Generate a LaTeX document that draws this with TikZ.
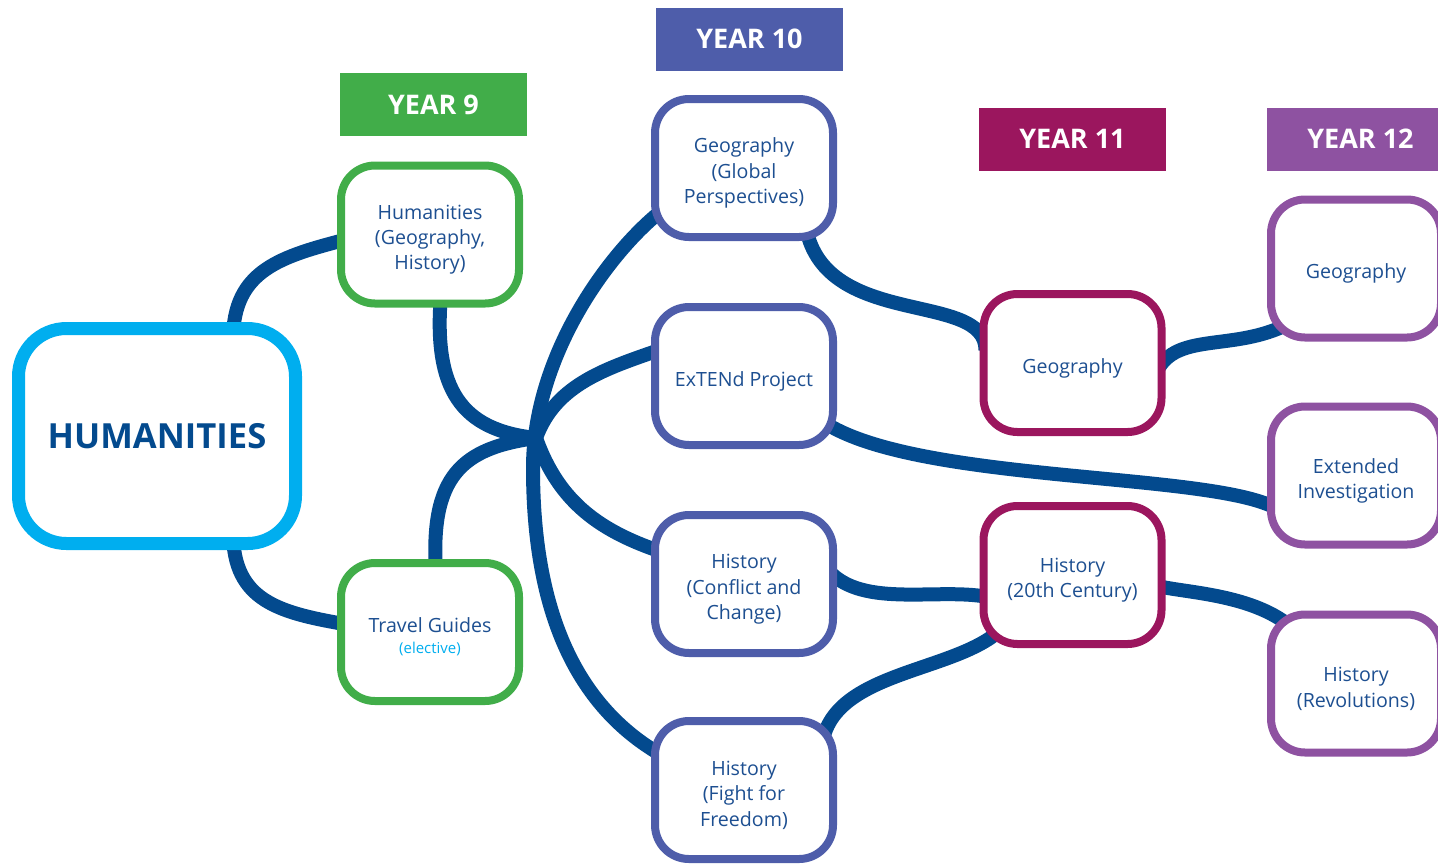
\documentclass[tikz,border=0pt]{standalone}
\usepackage{fontspec}
\setmainfont{Open Sans}
\usepackage{tikz}
\usetikzlibrary{positioning}
\definecolor{linkblue}{HTML}{034A8E}
\definecolor{txtblue}{HTML}{1D4F91}
\definecolor{humblue}{HTML}{00AEEF}
\definecolor{c9}{HTML}{41AD49}
\definecolor{c10}{HTML}{4E5DAA}
\definecolor{c11}{HTML}{9B165E}
\definecolor{c12}{HTML}{8E52A1}
\newcommand{\boxstrut}{\rule{0pt}{12.5pt}}
\pgfdeclarelayer{background}
\pgfsetlayers{background,main}
\tikzset{
     topic/.style={rectangle,rounded corners=17pt,line width=4pt,fill=white,minimum width=89pt,minimum height=69pt,inner sep=2pt,align=center,text=txtblue,font=\fontsize{9.8}{12.6}\selectfont},
     yearlabel/.style={rectangle,minimum width=93.5pt,minimum height=31.5pt,inner sep=0pt,text=white,font=\fontsize{13.5}{16}\selectfont\bfseries},
     link/.style={draw=linkblue,line width=7pt}
     }

\begin{document}
\begin{tikzpicture}[x=0.5pt,y=-0.5pt]
            \path[use as bounding box] (0,0) rectangle (1438,863);
            % Place nodes
            \node[rectangle,rounded corners=24pt,draw=humblue,line width=6.5pt,fill=white,minimum width=138.5pt,minimum height=107.5pt,text=linkblue,font=\fontsize{17.3}{20}\selectfont\bfseries] (hum) at (157,436) {HUMANITIES};
            \node[yearlabel,fill=c9] (lab9) at (433.5,104.5) {YEAR 9};
            \node[yearlabel,fill=c10] (lab10) at (749.5,39) {YEAR 10};
            \node[yearlabel,fill=c11] (lab11) at (1072.5,139) {YEAR 11};
            \node[yearlabel,fill=c12] (lab12) at (1360.5,139) {YEAR 12};
            \node[topic,draw=c9] (y9a) at (430,234.5) {\boxstrut Humanities\\(Geography,\\History)};
            \node[topic,draw=c9] (y9b) at (430,632) {\boxstrut Travel Guides\\[-2pt]{\fontsize{7.5}{9}\selectfont\color{humblue}(elective)}};
            \node[topic,draw=c10] (y10a) at (744,168) {\boxstrut Geography\\(Global\\Perspectives)};
            \node[topic,draw=c10] [below=31pt of y10a] (y10b) {\boxstrut ExTENd Project};
            \node[topic,draw=c10] [below=31pt of y10b] (y10c) {\boxstrut History\\(Conflict and\\Change)};
            \node[topic,draw=c10] [below=30pt of y10c] (y10d) {\boxstrut History\\(Fight for\\Freedom)};
            \node[topic,draw=c11] (y11a) at (1072.5,363) {\boxstrut Geography};
            \node[topic,draw=c11] [below=33pt of y11a] (y11b) {\boxstrut History\\(20th Century)};
            \node[topic,draw=c12,minimum width=85pt] (y12a) at (1356,268.5) {\boxstrut Geography};
            \node[topic,draw=c12,minimum width=85pt] [below=30.5pt of y12a] (y12b) {\boxstrut Extended\\Investigation};
            \node[topic,draw=c12,minimum width=85pt] [below=31pt of y12b] (y12c) {\boxstrut History\\(Revolutions)};
            \coordinate (hub) at (536,438);
            \coordinate (bend) at (533,468);
            % Draw edges
            \begin{pgfonlayer}{background}
            \draw[link] ([shift={(76,18)}]hum.north) .. controls +(0,-70) and +(-70,18) .. ([shift={(13,4)}]y9a.west);
            \draw[link] ([shift={(76,-18)}]hum.south) .. controls +(0,70) and +(-70,-12) .. ([shift={(13,-7)}]y9b.west);
            \draw[link] ([shift={(11,-13)}]y9a.south) .. controls +(-8,95) and +(-75,-8) .. (hub);
            \draw[link] ([shift={(6,13)}]y9b.north) .. controls +(-6,-95) and +(-75,10) .. (hub);
            \draw[link] ([shift={(14,40)}]y10a.west) .. controls +(-55,42) and +(0,-113) .. (bend) .. controls +(0,150) and +(-85,-47) .. ([shift={(14,-33)}]y10d.west);
            \draw[link] (hub) .. controls +(20,-55) and +(-57,20) .. ([shift={(14,-28)}]y10b.west);
            \draw[link] (hub) .. controls +(23,65) and +(-64,-21) .. ([shift={(14,-31)}]y10c.west);
            \draw[link] ([shift={(-31,-13)}]y10a.south east) .. controls +(20,102) and +(0,-60) .. ([shift={(6,-13)}]y11a.west);
            \draw[link] ([shift={(-19,-31)}]y10b.south east) .. controls +(87,67) and +(-60,-40) .. ([shift={(13,35)}]y12b.west);
            \draw[link] ([shift={(-9,-14)}]y10c.east) .. controls +(35,40) and +(-50,-12) .. ([shift={(13,23)}]y11b.west);
            \draw[link] ([shift={(-15,28)}]y10d.north east) .. controls +(10,-75) and +(-45,45) .. ([shift={(23,-20)}]y11b.south west);
            \draw[link] ([shift={(-8,7)}]y11a.east) .. controls +(20,-37) and +(-53,24) .. ([shift={(16,-15)}]y12a.south west);
            \draw[link] ([shift={(-11,10)}]y11b.east) .. controls +(25,8) and +(-40,-38) .. ([shift={(28,20)}]y12c.north west);
            \end{pgfonlayer}
        \end{tikzpicture}
\end{document}
